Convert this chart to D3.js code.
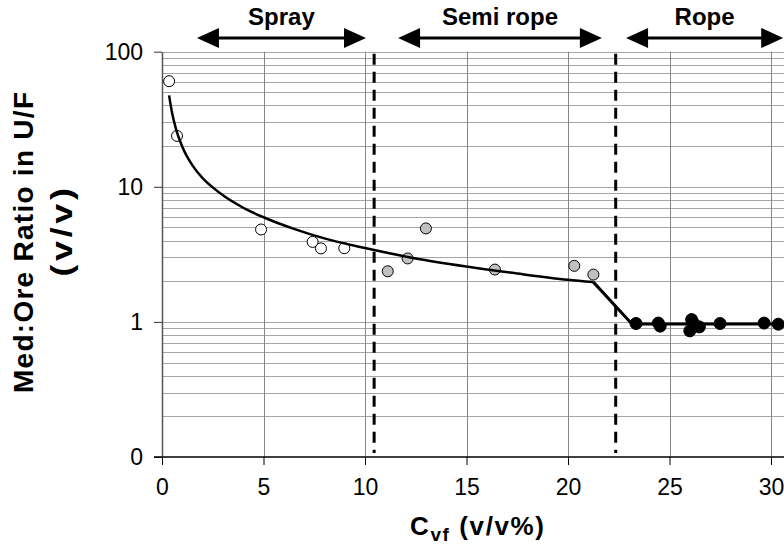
<!DOCTYPE html>
<html><head><meta charset="utf-8">
<script src="https://cdn.jsdelivr.net/npm/d3@7"></script>
<style>body{margin:0;background:#fff}svg{display:block;font-family:"Liberation Sans",Arial,sans-serif}</style>
</head><body><svg id="c" width="784" height="547"></svg>
<script>
// ---- data ----
const xTicks=[0,5,10,15,20,25,30];
const yTicks=[0.1,1,10,100];
const yTickLabels=["0","1","10","100"];
const sprayX=[0.35,0.74,4.88,7.42,7.83,8.98];
const sprayY=[60.5,23.8,4.83,3.91,3.50,3.51];
const semiX=[11.12,12.10,13.00,16.40,20.31,21.25];
const semiY=[2.37,2.95,4.92,2.44,2.60,2.24];
const ropeX=[23.35,24.45,24.54,26.00,26.09,26.20,26.47,27.49,29.66,30.36];
const ropeY=[0.973,0.98,0.93,0.858,1.04,0.97,0.918,0.973,0.98,0.962];
const fitX=[0.35,0.5,0.7,1.0,1.5,2.0,2.5,3.0,4.0,5.0,6.5,8.0,10,12.5,15,17.5,20,21.25];
const fitY=[47.5,35,26.5,19.8,14.4,11.6,9.9,8.65,7.0,5.95,4.88,4.15,3.52,2.95,2.57,2.28,2.05,1.97];
const stepX=[21.25,23.15,35];
const stepY=[1.97,0.965,0.965];
const boundaries=[10.45,22.35];
const regions=["Spray","Semi rope","Rope"];
const regionFrom=[1.72,11.63,22.86];
const regionTo=[10.05,21.67,30.6];

// ---- layout ----
const svg=d3.select("#c");
const x=d3.scaleLinear([0,30],[162,771]);
const y=d3.scaleLog([0.1,100],[457,51.7]);
const xMax=35;

// horizontal grid
const hLines=[];
[0.1,1,10].forEach(d=>{for(let k=2;k<=9;k++)hLines.push(k*d);});
hLines.push(1,10,100);
svg.append("g").selectAll("line").data(hLines).join("line")
  .attr("x1",x(0)).attr("x2",x(xMax))
  .attr("y1",d=>Math.round(y(d))+0.5).attr("y2",d=>Math.round(y(d))+0.5)
  .attr("stroke","#a6a6a6").attr("stroke-width",1);
// vertical grid
svg.append("g").selectAll("line").data(d3.range(5,xMax+1,5)).join("line")
  .attr("x1",d=>Math.round(x(d))+0.5).attr("x2",d=>Math.round(x(d))+0.5)
  .attr("y1",y(100)).attr("y2",y(0.1))
  .attr("stroke","#888").attr("stroke-width",1);

// axes
const yAxis=d3.axisLeft(y).tickValues(yTicks).tickFormat((d,i)=>yTickLabels[i]).tickSize(8).tickSizeOuter(0).tickPadding(11);
const gy=svg.append("g").attr("transform",`translate(${x(0)},0)`).call(yAxis);
gy.select(".domain").attr("stroke","#555").attr("stroke-width",1.5);
gy.selectAll(".tick line").attr("stroke","#333");
gy.selectAll("text").attr("font-size",23).attr("fill","#000").attr("font-family","Liberation Sans, Arial, sans-serif");

const xAxis=d3.axisBottom(x).tickValues(xTicks).tickSize(8).tickSizeOuter(0).tickPadding(14);
const gx=svg.append("g").attr("transform",`translate(0,${y(0.1)})`).call(xAxis);
gx.select(".domain").attr("d",`M${x(0)-8},0H${x(xMax)}`).attr("stroke","#000").attr("stroke-width",1.5);
gx.selectAll("text").attr("font-size",23).attr("fill","#000").attr("font-family","Liberation Sans, Arial, sans-serif");

// boundaries
svg.append("g").selectAll("line").data(boundaries).join("line")
  .attr("x1",d=>x(d)).attr("x2",d=>x(d)).attr("y1",y(100)+2).attr("y2",y(0.1)-4)
  .attr("stroke","#000").attr("stroke-width",3).attr("stroke-dasharray","11,7");

// markers
function dots(xs,ys,fill,r){
  svg.append("g").selectAll("circle").data(xs.map((v,i)=>[v,ys[i]])).join("circle")
    .attr("cx",d=>x(d[0])).attr("cy",d=>y(d[1])).attr("r",r)
    .attr("fill",fill).attr("stroke","#000").attr("stroke-width",1);
}
dots(sprayX,sprayY,"#fff",5.5);
dots(semiX,semiY,"#c0c0c0",5.5);

// fit lines
svg.append("path").datum(fitX.map((v,i)=>[v,fitY[i]]))
  .attr("d",d3.line().x(d=>x(d[0])).y(d=>y(d[1])).curve(d3.curveMonotoneX))
  .attr("fill","none").attr("stroke","#000").attr("stroke-width",2.5);
svg.append("path").datum(stepX.map((v,i)=>[v,stepY[i]]))
  .attr("d",d3.line().x(d=>x(d[0])).y(d=>y(d[1]))).attr("fill","none").attr("stroke","#000").attr("stroke-width",3);
dots(ropeX,ropeY,"#000",6);

// region arrows
const ay=38, hl=22, hh=10;
regions.forEach((name,i)=>{
  const a=x(regionFrom[i]), b=x(regionTo[i]);
  const g=svg.append("g");
  g.append("line").attr("x1",a+hl-2).attr("x2",b-hl+2).attr("y1",ay).attr("y2",ay).attr("stroke","#000").attr("stroke-width",3);
  g.append("path").attr("d",`M${a},${ay}L${a+hl},${ay-hh}L${a+hl},${ay+hh}Z`).attr("fill","#000");
  g.append("path").attr("d",`M${b},${ay}L${b-hl},${ay-hh}L${b-hl},${ay+hh}Z`).attr("fill","#000");
  g.append("text").attr("x",(a+b)/2).attr("y",25).attr("text-anchor","middle")
    .attr("font-size",24).attr("font-weight","bold").text(name);
});

// axis titles
svg.append("text").attr("transform","translate(33,242.5) rotate(-90)").attr("text-anchor","middle")
  .attr("font-size",28).attr("font-weight","bold")
  .attr("textLength",301).attr("lengthAdjust","spacing").text("Med:Ore Ratio in U/F");
svg.append("text").attr("transform","translate(72,230.5) rotate(-90)").attr("text-anchor","middle")
  .attr("font-size",29).attr("font-weight","bold").attr("letter-spacing",3)
  .attr("textLength",92).attr("lengthAdjust","spacingAndGlyphs").text("(v/v)");
const xt=svg.append("text").attr("x",410).attr("y",535).attr("font-size",26).attr("font-weight","bold").attr("letter-spacing",1.6);
xt.append("tspan").text("C");
xt.append("tspan").attr("dy",6).attr("font-size",19).text("vf");
xt.append("tspan").attr("dy",-6).text(" (v/v%)");
</script></body></html>
